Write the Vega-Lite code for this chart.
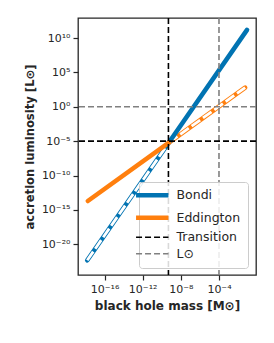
{
  "$schema": "https://vega.github.io/schema/vega-lite/v6.json",
  "autosize": "none",
  "width": 178,
  "height": 257,
  "padding": {"left": 78, "top": 18, "right": 18, "bottom": 68},
  "background": "white",
  "datasets": {
    "lines": [
      {"series": "Bondi", "part": "solid", "M": 5.623e-10, "L": 6.310e-6},
      {"series": "Bondi", "part": "solid", "M": 0.0871, "L": 1.514e11},
      {"series": "Bondi", "part": "dashed", "M": 1.549e-18, "L": 4.786e-23},
      {"series": "Bondi", "part": "dashed", "M": 5.623e-10, "L": 6.310e-6},
      {"series": "Eddington", "part": "solid", "M": 1.778e-18, "L": 1.995e-14},
      {"series": "Eddington", "part": "solid", "M": 5.623e-10, "L": 6.310e-6},
      {"series": "Eddington", "part": "dashed", "M": 5.623e-10, "L": 6.310e-6},
      {"series": "Eddington", "part": "dashed", "M": 0.05495, "L": 616.6}
    ],
    "refs": [
      {"series": "Transition", "orient": "v", "value": 5.012e-10},
      {"series": "Transition", "orient": "h", "value": 1e-5},
      {"series": "L⊙", "orient": "v", "value": 1e-4},
      {"series": "L⊙", "orient": "h", "value": 1}
    ]
  },
  "layer": [
    {
      "data": {"name": "lines"},
      "transform": [{"filter": "datum.part === 'dashed'"}],
      "mark": {"type": "line", "strokeWidth": 4.6, "strokeCap": "round"},
      "encoding": {
        "x": {
          "field": "M", "type": "quantitative",
          "scale": {"type": "log", "domain": [1.66e-19, 0.759], "nice": false},
          "axis": {
            "title": "black hole mass [M⊙]",
            "values": [1e-16, 1e-12, 1e-8, 1e-4],
            "labelExpr": "datum.value < 1e-14 ? '10⁻¹⁶' : datum.value < 1e-10 ? '10⁻¹²' : datum.value < 1e-6 ? '10⁻⁸' : '10⁻⁴'",
            "labelPadding": 3,
            "titlePadding": 6
          }
        },
        "y": {
          "field": "L", "type": "quantitative",
          "scale": {"type": "log", "domain": [3.47e-25, 8.13e12], "nice": false},
          "axis": {
            "title": "accretion luminosity [L⊙]",
            "titleFontSize": 11.6,
            "values": [1e-20, 1e-15, 1e-10, 1e-5, 1, 1e5, 1e10],
            "labelExpr": "datum.value < 1e-17 ? '10⁻²⁰' : datum.value < 1e-12 ? '10⁻¹⁵' : datum.value < 1e-7 ? '10⁻¹⁰' : datum.value < 0.01 ? '10⁻⁵' : datum.value < 100 ? '10⁰' : datum.value < 1e7 ? '10⁵' : '10¹⁰'",
            "labelPadding": 3,
            "titlePadding": 6
          }
        },
        "color": {
          "field": "series", "type": "nominal",
          "scale": {"domain": ["Bondi", "Eddington", "Transition", "L⊙"], "range": ["#0173b2", "#ff7f0e", "#000000", "#808080"]},
          "legend": {
            "title": null,
            "orient": "none",
            "direction": "vertical",
            "columns": 1,
            "legendX": 61,
            "legendY": 164,
            "symbolType": "stroke",
            "symbolSize": 1050,
            "symbolStrokeWidth": 1.6,
            "labelFont": "DejaVu Sans",
            "labelFontSize": 12.5,
            "labelColor": "#262626",
            "labelOffset": 18,
            "labelLimit": 200,
            "rowPadding": 3.5,
            "padding": 7,
            "fillColor": "rgba(255,255,255,0.85)",
            "strokeColor": "#cccccc",
            "cornerRadius": 3,
            "encode": {
              "symbols": {"update": {
                "strokeWidth": {"signal": "datum.value === 'Bondi' || datum.value === 'Eddington' ? 4.6 : 1.6"},
                "strokeDash": {"signal": "datum.value === 'Bondi' || datum.value === 'Eddington' ? [1, 0] : [6, 3]"}
              }}
            }
          }
        }
      }
    },
    {
      "data": {"name": "lines"},
      "transform": [{"filter": "datum.part === 'dashed'"}],
      "mark": {"type": "line", "strokeWidth": 2.8, "strokeDash": [10.5, 3.5], "color": "white", "strokeCap": "butt"},
      "encoding": {
        "x": {"field": "M", "type": "quantitative"},
        "y": {"field": "L", "type": "quantitative"},
        "detail": {"field": "series", "type": "nominal"}
      }
    },
    {
      "data": {"name": "lines"},
      "transform": [{"filter": "datum.part === 'solid'"}],
      "mark": {"type": "line", "strokeWidth": 4.6, "strokeCap": "round"},
      "encoding": {
        "x": {"field": "M", "type": "quantitative"},
        "y": {"field": "L", "type": "quantitative"},
        "color": {"field": "series", "type": "nominal"}
      }
    },
    {
      "data": {"name": "refs"},
      "transform": [{"filter": "datum.orient === 'v'"}],
      "mark": {"type": "rule", "strokeWidth": 1.6, "strokeDash": [6, 3]},
      "encoding": {
        "x": {"field": "value", "type": "quantitative"},
        "color": {"field": "series", "type": "nominal"}
      }
    },
    {
      "data": {"name": "refs"},
      "transform": [{"filter": "datum.orient === 'h'"}],
      "mark": {"type": "rule", "strokeWidth": 1.6, "strokeDash": [6, 3]},
      "encoding": {
        "y": {"field": "value", "type": "quantitative"},
        "color": {"field": "series", "type": "nominal"}
      }
    }
  ],
  "config": {
    "font": "DejaVu Sans",
    "view": {"stroke": "#262626", "strokeWidth": 1.3},
    "axis": {
      "grid": false,
      "domain": false,
      "ticks": true,
      "tickSize": 5,
      "tickWidth": 1.2,
      "tickColor": "#262626",
      "labelFont": "DejaVu Sans",
      "labelFontSize": 11,
      "labelColor": "#262626",
      "titleFont": "DejaVu Sans",
      "titleFontSize": 12,
      "titleFontWeight": "bold",
      "titleColor": "#262626"
    }
  }
}
